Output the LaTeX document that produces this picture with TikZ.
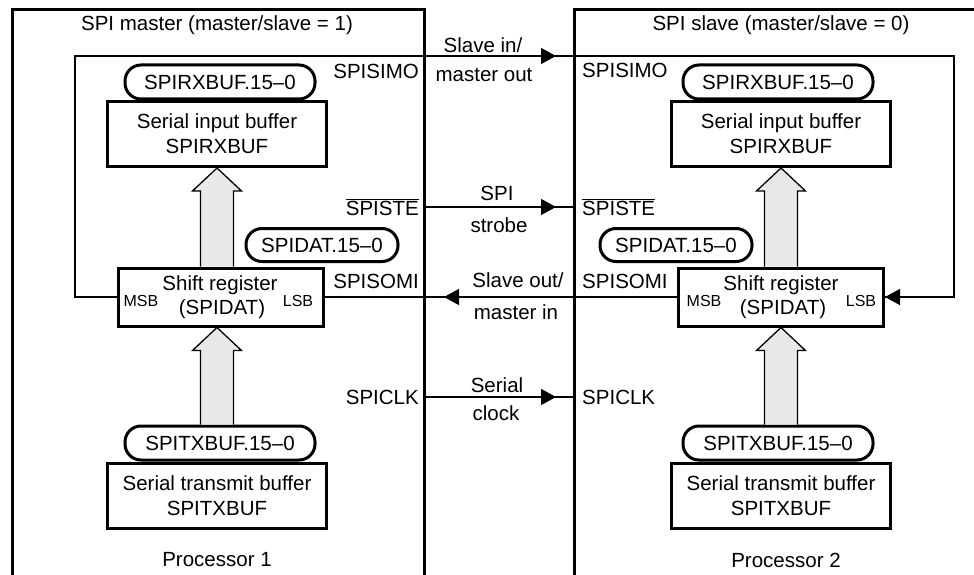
\documentclass[tikz,border=0pt]{standalone}
\usepackage{fontspec}
\setmainfont{Liberation Sans}
\usetikzlibrary{arrows.meta,calc}
\begin{document}
\begin{tikzpicture}[x=1pt,y=-1pt,
  every node/.style={font=\fontsize{20.5}{25}\selectfont, inner sep=0pt},
  outer/.style={line width=3pt},
  wire/.style={line width=1.3pt},
  tri/.style={-{Triangle[length=15pt,width=16pt]}},
  bigbox/.style={draw, line width=3pt, minimum width=219pt, minimum height=65pt, align=center},
  regbox/.style={draw, line width=3pt, minimum width=205pt, minimum height=58pt},
  pill/.style={draw, line width=3pt, rounded corners=16pt, minimum width=190pt, minimum height=34pt},
  smallpill/.style={draw, line width=3pt, rounded corners=16pt, minimum width=152pt, minimum height=33pt},
  sig/.style={font=\fontsize{20.5}{25}\selectfont},
  bit/.style={font=\fontsize{16}{18}\selectfont},
  grayarrow/.style={draw, line width=1.3pt, fill=gray!18}
]
\useasboundingbox (0,0) rectangle (974,575);

% outer processor boxes
\draw[outer] (12,575) -- (12,10) -- (424,10) -- (424,575);
\draw[outer] (974,10) -- (574,10) -- (574,575);
\node (tM) at (217,25) {SPI master (master/slave = 1)};
\node (tS) at (781,25) {SPI slave (master/slave = 0)};

% master column
\node[pill] (rxpM) at (220,82) {SPIRXBUF.15--0};
\node[bigbox] (ibM) at (217,134) {Serial input buffer\\SPIRXBUF};
\node[regbox] (srM) at (220.5,297) {};
\node (srMt) at (220,285) {Shift register};
\node (srMb) at (222,309) {(SPIDAT)};
\node[bit] (msbM) at (141,301) {MSB};
\node[bit] (lsbM) at (298,301) {LSB};
\node[smallpill] (datM) at (322,245) {SPIDAT.15--0};
\node[pill] (txpM) at (220,443) {SPITXBUF.15--0};
\node[bigbox] (tbM) at (217,496) {Serial transmit buffer\\SPITXBUF};
\node (pM) at (217,560) {Processor 1};

% slave column
\node[pill] (rxpS) at (778,82) {SPIRXBUF.15--0};
\node[bigbox] (ibS) at (781,134) {Serial input buffer\\SPIRXBUF};
\node[regbox] (srS) at (781,297) {};
\node (srSt) at (781,285) {Shift register};
\node (srSb) at (783,309) {(SPIDAT)};
\node[bit] (msbS) at (704,301) {MSB};
\node[bit] (lsbS) at (861,301) {LSB};
\node[smallpill] (datS) at (676,245) {SPIDAT.15--0};
\node[pill] (txpS) at (778,443) {SPITXBUF.15--0};
\node[bigbox] (tbS) at (781,496) {Serial transmit buffer\\SPITXBUF};
\node (pS) at (786,560) {Processor 2};

% pin labels
\node[sig, anchor=east] (simoM) at (419,71) {SPISIMO};
\node[sig, anchor=east] (steM) at (419,207) {$\overline{\mbox{SPISTE}}$};
\node[sig, anchor=east] (somiM) at (419,281) {SPISOMI};
\node[sig, anchor=east] (clkM) at (419,397) {SPICLK};
\node[sig, anchor=west] (simoS) at (582,70) {SPISIMO};
\node[sig, anchor=west] (steS) at (582,207) {$\overline{\mbox{SPISTE}}$};
\node[sig, anchor=west] (somiS) at (582,281) {SPISOMI};
\node[sig, anchor=west] (clkS) at (582,397) {SPICLK};

% signal names between processors
\node (l1a) at (483,45) {Slave in/};
\node (l1b) at (484,75) {master out};
\node (l2a) at (497,193) {SPI};
\node (l2b) at (499,225) {strobe};
\node (l3a) at (518,280) {Slave out/};
\node (l3b) at (516,312) {master in};
\node (l4a) at (497,385) {Serial};
\node (l4b) at (496,413) {clock};

% coordinates on the processor edges
\coordinate (cTL) at (75,56);
\coordinate (cTR) at (954,56);
\coordinate (aSIMO) at (556,56);
\coordinate (eSteM) at (424,207);
\coordinate (eSteS) at (574,207);
\coordinate (aSTE) at (556,207);
\coordinate (eClkM) at (424,397);
\coordinate (eClkS) at (574,397);
\coordinate (aCLK) at (556,397);
\coordinate (aSOMI) at (444,297);
\coordinate (cLR) at (954,297);

% SIMO: master MSB -> slave LSB
\draw[wire] (srM.west) -| (cTL) -- (cTR) -- (cLR) -- (srS.east);
\draw[wire,tri] (cTL) -- (aSIMO);
\draw[wire,tri] (cLR) -- (srS.east);
% SOMI: slave MSB -> master LSB
\draw[wire] (srS.west) -- (srM.east);
\draw[wire,tri] (srS.west) -- (aSOMI);
% STE and CLK
\draw[wire] (eSteM) -- (eSteS);
\draw[wire,tri] (eSteM) -- (aSTE);
\draw[wire] (eClkM) -- (eClkS);
\draw[wire,tri] (eClkM) -- (aCLK);

% wide gray data arrows
\foreach \c in {M,S}{
  \coordinate (t1) at (ib\c.south);
  \coordinate (b1) at (ib\c.south |- sr\c.north);
  \draw[grayarrow] ($(b1)+(-16.5,0)$) -- ($(t1)+(-16.5,23)$)
    -- ($(t1)+(-24.5,23)$) -- (t1) -- ($(t1)+(24.5,23)$)
    -- ($(t1)+(16.5,23)$) -- ($(b1)+(16.5,0)$);
  \coordinate (t2) at (ib\c.south |- sr\c.south);
  \coordinate (b2) at (ib\c.south |- txp\c.north);
  \draw[grayarrow] ($(b2)+(-16.5,0)$) -- ($(t2)+(-16.5,23)$)
    -- ($(t2)+(-24.5,23)$) -- (t2) -- ($(t2)+(24.5,23)$)
    -- ($(t2)+(16.5,23)$) -- ($(b2)+(16.5,0)$);
}
\end{tikzpicture}
\end{document}
